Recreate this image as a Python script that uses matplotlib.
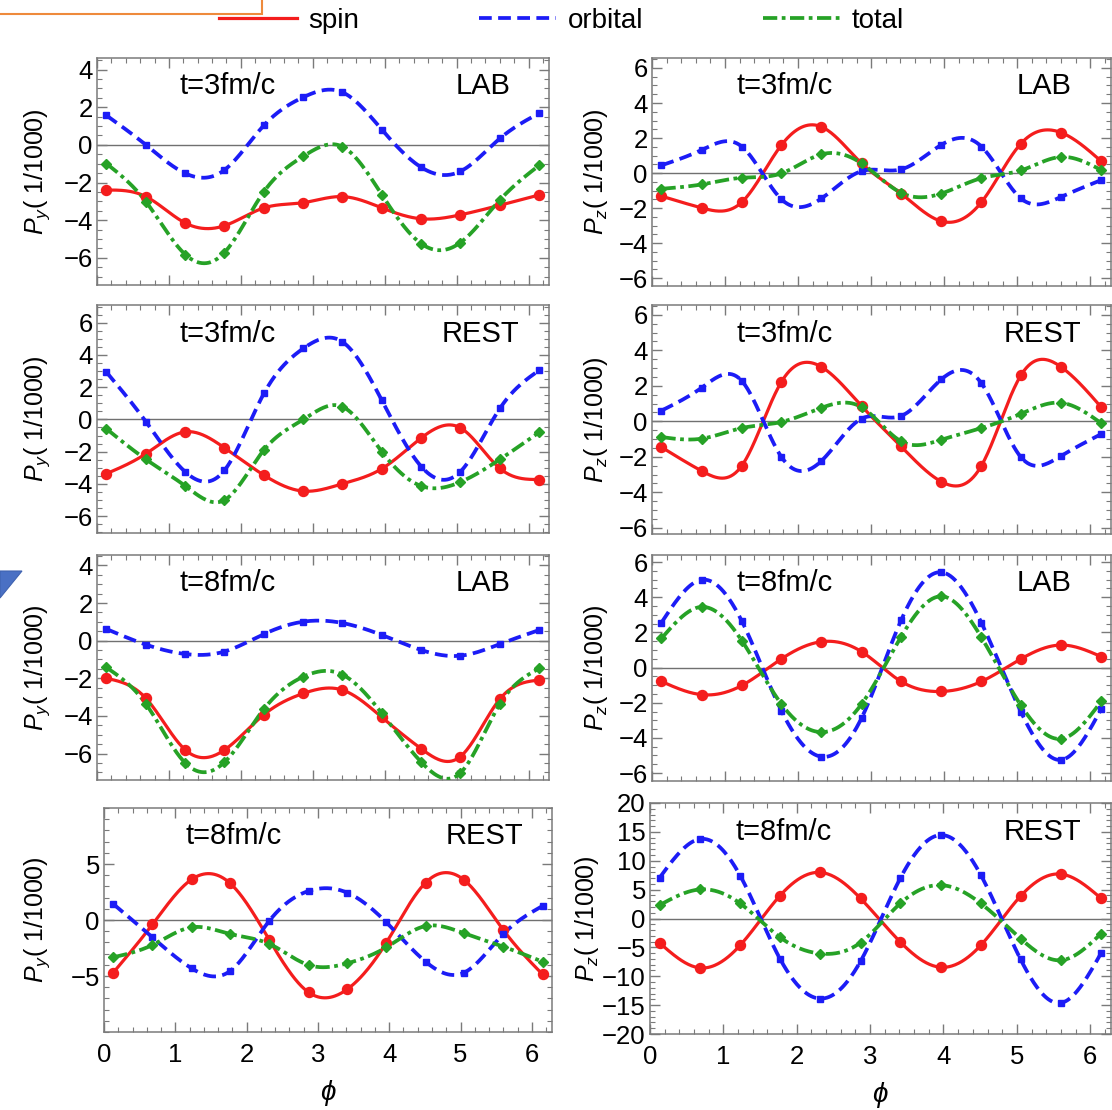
import numpy as np
import matplotlib
matplotlib.use('Agg')
import matplotlib.pyplot as plt
from matplotlib.ticker import MultipleLocator, FixedLocator
from matplotlib.lines import Line2D
from matplotlib.patches import Rectangle, Polygon

plt.rcParams['font.family'] = ['Liberation Sans', 'DejaVu Sans']
plt.rcParams['mathtext.fontset'] = 'custom'
plt.rcParams['mathtext.rm'] = 'Liberation Sans'
plt.rcParams['mathtext.it'] = 'Liberation Sans:italic'

# azimuthal angle of the sampled points
phi = [0.13, 0.68, 1.23, 1.77, 2.32, 2.87, 3.41, 3.96, 4.51, 5.05, 5.60, 6.15]

# P_y, LAB frame, t=3 fm/c
py_lab3_spin = [-2.40, -2.75, -4.16, -4.30, -3.35, -3.07, -2.75, -3.35, -3.93, -3.72, -3.21, -2.66]
py_lab3_orb = [1.57, 0.00, -1.52, -1.34, 1.04, 2.54, 2.80, 0.81, -1.20, -1.41, 0.34, 1.69]
py_lab3_tot = [-0.99, -3.02, -5.84, -5.73, -2.49, -0.60, -0.09, -2.65, -5.26, -5.20, -2.93, -1.08]
# P_z, LAB frame, t=3 fm/c
pz_lab3_spin = [-1.32, -1.99, -1.66, 1.59, 2.64, 0.55, -1.17, -2.75, -1.66, 1.68, 2.31, 0.67]
pz_lab3_orb = [0.44, 1.32, 1.51, -1.49, -1.45, 0.11, 0.21, 1.61, 1.51, -1.45, -1.36, -0.40]
pz_lab3_tot = [-0.90, -0.65, -0.27, -0.02, 1.07, 0.55, -1.13, -1.17, -0.29, 0.15, 0.92, 0.17]
# P_y, REST frame, t=3 fm/c
py_rest3_spin = [-3.37, -2.13, -0.77, -1.76, -3.46, -4.45, -4.00, -3.06, -1.14, -0.52, -3.04, -3.73]
py_rest3_orb = [2.94, -0.14, -3.27, -3.17, 1.61, 4.41, 4.82, 1.18, -2.94, -3.25, 0.68, 3.06]
py_rest3_tot = [-0.58, -2.48, -4.14, -5.01, -1.90, 0.00, 0.79, -2.01, -4.14, -3.89, -2.48, -0.79]
# P_z, REST frame, t=3 fm/c
pz_rest3_spin = [-1.46, -2.80, -2.50, 2.21, 3.06, 0.85, -1.42, -3.40, -2.50, 2.59, 3.06, 0.79]
pz_rest3_orb = [0.60, 1.89, 2.27, -2.00, -2.23, 0.15, 0.30, 2.36, 2.14, -2.02, -1.95, -0.72]
pz_rest3_tot = [-0.89, -0.98, -0.38, -0.04, 0.76, 0.79, -1.13, -1.04, -0.38, 0.42, 1.04, -0.11]
# P_y, LAB frame, t=8 fm/c
py_lab8_spin = [-2.00, -3.06, -5.81, -5.81, -3.93, -2.80, -2.62, -4.07, -5.75, -6.16, -3.10, -2.09]
py_lab8_orb = [0.62, -0.21, -0.71, -0.58, 0.35, 1.01, 0.94, 0.30, -0.50, -0.80, -0.18, 0.57]
py_lab8_tot = [-1.42, -3.36, -6.51, -6.46, -3.63, -1.91, -1.80, -3.86, -6.46, -7.03, -3.36, -1.47]
# P_z, LAB frame, t=8 fm/c
pz_lab8_spin = [-0.79, -1.54, -1.02, 0.49, 1.47, 0.90, -0.79, -1.36, -0.79, 0.49, 1.28, 0.62]
pz_lab8_orb = [2.56, 4.99, 2.64, -2.45, -5.07, -2.86, 2.69, 5.42, 2.54, -2.52, -5.25, -2.35]
pz_lab8_tot = [1.66, 3.45, 1.53, -2.07, -3.67, -2.07, 1.75, 4.05, 1.71, -2.15, -4.05, -1.92]
# P_y, REST frame, t=8 fm/c
py_rest8_spin = [-4.70, -0.39, 3.63, 3.27, -1.79, -6.46, -6.19, -2.02, 3.33, 3.57, -0.89, -4.85]
py_rest8_orb = [1.43, -1.55, -4.32, -4.55, -0.06, 2.59, 2.44, -0.21, -3.72, -4.70, -1.25, 1.25]
py_rest8_tot = [-3.33, -2.23, -0.65, -1.25, -2.14, -4.02, -3.87, -2.44, -0.54, -1.19, -2.38, -3.72]
# P_z, REST frame, t=8 fm/c
pz_rest8_spin = [-4.22, -8.55, -4.62, 3.93, 7.98, 3.47, -4.05, -8.44, -4.62, 3.87, 7.69, 3.47]
pz_rest8_orb = [7.05, 13.76, 7.40, -6.94, -13.87, -7.40, 6.94, 14.45, 7.51, -7.05, -14.62, -5.95]
pz_rest8_tot = [2.31, 5.03, 2.60, -3.24, -6.07, -4.16, 2.60, 5.78, 2.60, -3.47, -7.23, -2.60]

series_names = ['spin', 'orbital', 'total']
time_labels = ['t=3fm/c', 't=3fm/c', 't=8fm/c', 't=8fm/c']
frame_labels = ['LAB', 'REST', 'LAB', 'REST']

py_rows = [(py_lab3_spin, py_lab3_orb, py_lab3_tot),
           (py_rest3_spin, py_rest3_orb, py_rest3_tot),
           (py_lab8_spin, py_lab8_orb, py_lab8_tot),
           (py_rest8_spin, py_rest8_orb, py_rest8_tot)]
pz_rows = [(pz_lab3_spin, pz_lab3_orb, pz_lab3_tot),
           (pz_rest3_spin, pz_rest3_orb, pz_rest3_tot),
           (pz_lab8_spin, pz_lab8_orb, pz_lab8_tot),
           (pz_rest8_spin, pz_rest8_orb, pz_rest8_tot)]


def spline(x, y, n=400):
    # natural cubic spline through the sample points
    x = np.asarray(x, float)
    y = np.asarray(y, float)
    h = np.diff(x)
    N = len(x)
    A = np.zeros((N, N))
    r = np.zeros(N)
    A[0, 0] = A[-1, -1] = 1
    for i in range(1, N - 1):
        A[i, i - 1] = h[i - 1]
        A[i, i] = 2 * (h[i - 1] + h[i])
        A[i, i + 1] = h[i]
        r[i] = 6 * ((y[i + 1] - y[i]) / h[i] - (y[i] - y[i - 1]) / h[i - 1])
    M = np.linalg.solve(A, r)
    xs = np.linspace(x[0], x[-1], n)
    k = np.clip(np.searchsorted(x, xs) - 1, 0, N - 2)
    t0 = x[k + 1] - xs
    t1 = xs - x[k]
    hk = h[k]
    ys = (M[k] * t0**3 + M[k + 1] * t1**3) / (6 * hk) \
        + (y[k] / hk - M[k] * hk / 6) * t0 + (y[k + 1] / hk - M[k + 1] * hk / 6) * t1
    return xs, ys


styles = [
    dict(color='#f41d1d', lw=2.3, ls='-', marker='o', ms=7.2),
    dict(color='#1c1cf6', lw=2.7, ls=(0, (3.4, 1.7)), marker='s', ms=4.8),
    dict(color='#26a226', lw=2.7, ls=(0, (3.8, 1.2, 1.0, 1.2)), marker='D', ms=5.6),
]

W, H = 1112, 1110
fig = plt.figure(figsize=(W / 100, H / 100), dpi=100)


def box(x0, y0, x1, y1):
    return [x0 / W, 1 - y1 / H, (x1 - x0) / W, (y1 - y0) / H]


left_boxes = [box(97, 58, 549, 285), box(97, 305, 549, 533),
              box(97, 555, 549, 780), box(104, 808, 552, 1032)]
right_boxes = [box(652, 58, 1111, 286), box(652, 305, 1111, 534),
               box(652, 555, 1111, 781), box(650, 803, 1111, 1034)]
left_ylims = [(-7.45, 4.62), (-7.05, 7.1), (-7.4, 4.55), (-10, 10)]
right_ylims = [(-6.45, 6.57), (-6.35, 6.55), (-6.45, 6.4), (-20, 20)]
left_major = [np.arange(-6, 5, 2), np.arange(-6, 7, 2), np.arange(-6, 5, 2), [-5, 0, 5]]
right_major = [np.arange(-6, 7, 2), np.arange(-6, 7, 2), np.arange(-6, 7, 2), np.arange(-20, 21, 5)]
left_minor = [0.5, 0.5, 0.5, 1]
right_minor = [0.5, 0.5, 0.5, 1]
left_ylab = [-0.10, -0.10, -0.10, -0.115]
right_ylab = [-0.092, -0.092, -0.092, -0.106]

frame_color = '#7a7a7a'


def draw_panel(rect, data, ylim, major, minor, ylabel, row, ylab_x):
    ax = fig.add_axes(rect)
    ax.axhline(0, color='#707070', lw=1.0, zorder=1)
    for vals, st in zip(data, styles):
        xs, ys = spline(phi, vals)
        ax.plot(xs, ys, color=st['color'], lw=st['lw'], ls=st['ls'], zorder=3)
        ax.plot(phi, vals, ls='none', marker=st['marker'], ms=st['ms'],
                color=st['color'], mec=st['color'], zorder=4)
    ax.set_xlim(0, 2 * np.pi)
    ax.set_ylim(*ylim)
    ax.xaxis.set_major_locator(MultipleLocator(1))
    ax.xaxis.set_minor_locator(MultipleLocator(0.2))
    ax.yaxis.set_major_locator(FixedLocator(major))
    ax.yaxis.set_minor_locator(MultipleLocator(minor))
    ax.tick_params(which='both', direction='in', top=True, right=True,
                   color=frame_color, labelsize=18.5, pad=3)
    ax.tick_params(which='major', length=7, width=1)
    ax.tick_params(which='minor', length=3.5, width=0.8)
    ax.tick_params(axis='x', pad=8)
    for sp in ax.spines.values():
        sp.set_color(frame_color)
        sp.set_linewidth(1.1)
    if row < 3:
        ax.tick_params(labelbottom=False)
    else:
        ax.set_xlabel(r'$\phi$', fontsize=20, labelpad=8)
    ax.set_ylabel(ylabel, fontsize=18)
    ax.yaxis.set_label_coords(ylab_x, 0.5)
    ax.text(0.29, 0.875, time_labels[row], transform=ax.transAxes,
            fontsize=21, ha='center', va='center')
    rx = 0.914 if frame_labels[row] == 'LAB' else 0.935
    ax.text(rx, 0.875, frame_labels[row], transform=ax.transAxes,
            fontsize=21, ha='right', va='center')
    return ax


for row in range(4):
    draw_panel(left_boxes[row], py_rows[row], left_ylims[row], left_major[row],
               left_minor[row], r'$P_y$( 1/1000)', row, left_ylab[row])
    draw_panel(right_boxes[row], pz_rows[row], right_ylims[row], right_major[row],
               right_minor[row], r'$P_z$( 1/1000)', row, right_ylab[row])

handles = [Line2D([], [], color=st['color'], lw=st['lw'], ls=st['ls']) for st in styles]
fig.legend(handles, series_names, loc='center', bbox_to_anchor=(0.505, 1 - 21 / H),
           ncol=3, frameon=False, fontsize=20, handlelength=2.8,
           columnspacing=4.3, handletextpad=0.4)

# leftover shapes along the page edge
fig.patches.append(Rectangle((-0.01, 1 - 14 / H), 262 / W + 0.01, 0.05,
                             transform=fig.transFigure, fill=False,
                             ec='#ee8a3c', lw=1.5))
fig.patches.append(Polygon([(0, 1 - 571 / H), (22 / W, 1 - 571 / H), (0, 1 - 598 / H)],
                           closed=True, transform=fig.transFigure,
                           fc='#4a70c4', ec='#3f62b0', lw=0.8))

fig.savefig('out.png', dpi=100)
